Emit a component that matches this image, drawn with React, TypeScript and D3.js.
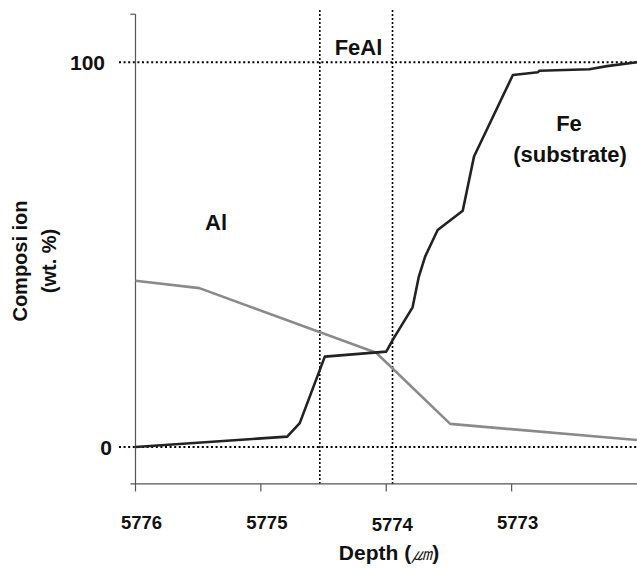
import React from "react";
import * as d3 from "d3";

const W = 637;
const H = 568;

// Data
const feDepth = [5776, 5774.79, 5774.69, 5774.49, 5774.0, 5773.94, 5773.79, 5773.74, 5773.69, 5773.59, 5773.39, 5773.3, 5772.99, 5772.79, 5772.78, 5772.38, 5772.24, 5772.0];
const feComp = [0, 2.7, 6.2, 23.5, 24.8, 28.3, 36.3, 44.3, 49.5, 56.4, 61.4, 75.5, 96.7, 97.4, 97.8, 98.2, 99.0, 100.0];
const alDepth = [5776, 5775.49, 5774.08, 5773.49, 5772.0];
const alComp = [43.2, 41.3, 24.5, 6.0, 1.8];
const xTicks = [5776, 5775, 5774, 5773];
const yTicks = [0, 100];
const phaseBounds = [5774.53, 5773.95];
const xDomain = [5776, 5772];
const yAxisExtent = [-9.6, 112.5];

const FONT = "'Liberation Sans', Arial, Helvetica, sans-serif";

export default function App() {
  const x = d3.scaleLinear().domain(xDomain).range([135.5, 637]);
  const y = d3.scaleLinear().domain([0, 100]).range([447, 62.3]);

  const line = d3
    .line<[number, number]>()
    .x((d) => x(d[0]))
    .y((d) => y(d[1]));

  const fePts: [number, number][] = feDepth.map((d, i) => [d, feComp[i]]);
  const alPts: [number, number][] = alDepth.map((d, i) => [d, alComp[i]]);

  const x0 = x(xDomain[0]);
  const yTop = y(yAxisExtent[1]);
  const yBot = y(yAxisExtent[0]);

  return (
    <svg
      width={W}
      height={H}
      style={{ position: "absolute", left: 0, top: 0, background: "#fff" }}
      fontFamily={FONT}
      fontWeight="bold"
    >
      <rect width={W} height={H} fill="#fff" />
      {/* horizontal reference dotted lines */}
      {yTicks.map((t) => (
        <line
          key={"h" + t}
          x1={119}
          x2={W}
          y1={y(t)}
          y2={y(t)}
          stroke="#000"
          strokeWidth={2}
          strokeDasharray="2 2.6"
        />
      ))}
      {/* vertical phase boundary dotted lines */}
      {phaseBounds.map((b) => (
        <line
          key={"v" + b}
          x1={x(b)}
          x2={x(b)}
          y1={10}
          y2={yBot}
          stroke="#000"
          strokeWidth={1.6}
          strokeDasharray="2 2"
        />
      ))}
      {/* axes */}
      <line x1={x0} x2={x0} y1={yTop} y2={yBot} stroke="#555" strokeWidth={1.2} />
      <line x1={x0 - 5} x2={x0} y1={yTop} y2={yTop} stroke="#555" strokeWidth={1.2} />
      <line x1={x0 - 5} x2={W} y1={yBot} y2={yBot} stroke="#555" strokeWidth={1.2} />
      {xTicks.map((t) => (
        <line
          key={"xt" + t}
          x1={x(t)}
          x2={x(t)}
          y1={yBot}
          y2={yBot + 7.5}
          stroke="#555"
          strokeWidth={1.2}
        />
      ))}
      {/* curves */}
      <path d={line(alPts) || ""} fill="none" stroke="#8a8a8a" strokeWidth={2.6} strokeLinejoin="round" />
      <path d={line(fePts) || ""} fill="none" stroke="#222" strokeWidth={2.6} strokeLinejoin="round" />
      {/* tick labels */}
      {xTicks.map((t) => (
        <text
          key={"xl" + t}
          x={x(t) + 6}
          y={t === 5774 ? 531 : 529}
          textAnchor="middle"
          fontSize={18.5}
          fill="#111"
        >
          {t}
        </text>
      ))}
      {yTicks.map((t) => (
        <text
          key={"yl" + t}
          x={t === 0 ? 112 : 105}
          y={y(t) + 7.5}
          textAnchor="end"
          fontSize={21}
          fill="#111"
        >
          {t}
        </text>
      ))}
      {/* axis titles */}
      <text x={389} y={560} textAnchor="middle" fontSize={21} fill="#111">
        Depth (<tspan fontStyle="italic" fontWeight="normal">㎛</tspan>)
      </text>
      <g transform="translate(27,261) rotate(-90)">
        <text x={0} y={0} textAnchor="middle" fontSize={20} fill="#111">
          Composi ion
        </text>
        <text x={0} y={29} textAnchor="middle" fontSize={20} fill="#111">
          (wt. %)
        </text>
      </g>
      {/* region labels */}
      <text x={358.5} y={55} textAnchor="middle" fontSize={22} fill="#111">
        FeAl
      </text>
      <text x={216} y={230} textAnchor="middle" fontSize={22} fill="#111">
        Al
      </text>
      <text x={569} y={131} textAnchor="middle" fontSize={22} fill="#111">
        Fe
      </text>
      <text x={570} y={162} textAnchor="middle" fontSize={22} fill="#111">
        (substrate)
      </text>
    </svg>
  );
}
